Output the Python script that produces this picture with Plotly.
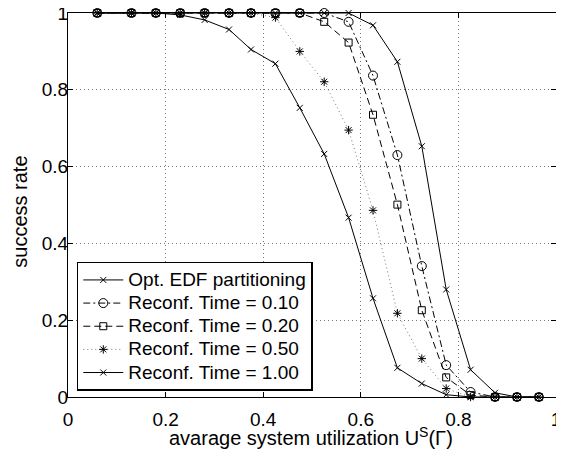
import plotly.graph_objects as go

xs = [0.06, 0.13, 0.18, 0.23, 0.28, 0.33, 0.375, 0.425, 0.475, 0.525,
      0.575, 0.625, 0.675, 0.725, 0.775, 0.825, 0.875, 0.92, 0.965]

opt_edf = [1]*11 + [0.968, 0.873, 0.653, 0.28, 0.071, 0.011, 0, 0]
rt_010 = [1]*10 + [0.977, 0.837, 0.63, 0.341, 0.083, 0.013, 0, 0, 0]
rt_020 = [1]*9 + [0.977, 0.923, 0.735, 0.501, 0.226, 0.051, 0.005, 0, 0, 0]
rt_050 = [1]*7 + [0.988, 0.9, 0.821, 0.695, 0.486, 0.218, 0.1, 0.022, 0, 0, 0, 0]
rt_100 = [1]*3 + [0.995, 0.982, 0.957, 0.905, 0.868, 0.753, 0.633, 0.467,
                  0.257, 0.076, 0.035, 0.006, 0, 0, 0, 0]

names = ["Opt. EDF partitioning", "Reconf. Time = 0.10", "Reconf. Time = 0.20",
         "Reconf. Time = 0.50", "Reconf. Time = 1.00"]
tick_vals = [0, 0.2, 0.4, 0.6, 0.8, 1]
tick_text = ["0", "0.2", "0.4", "0.6", "0.8", "1"]

styles = [
    dict(dash="solid", symbol="x-thin-open", size=6, color="black"),
    dict(dash="7px,3px,2px,3px", symbol="circle-open", size=9, color="black"),
    dict(dash="7px,4px", symbol="square-open", size=7, color="black"),
    dict(dash="1px,3px", symbol="asterisk-open", size=7, color="#777777"),
    dict(dash="solid", symbol="x-thin-open", size=6, color="black"),
]

FONT = "Liberation Sans, Arial, sans-serif"

fig = go.Figure()
for name, ys, st in zip(names, [opt_edf, rt_010, rt_020, rt_050, rt_100], styles):
    fig.add_trace(go.Scatter(
        x=xs, y=ys, name='<span style="font-size:19px">' + name + '</span>',
        mode="lines+markers",
        line=dict(color=st["color"], width=1, dash=st["dash"]),
        marker=dict(symbol=st["symbol"], size=st["size"], color="black",
                    line=dict(color="black", width=1)),
        cliponaxis=False,
    ))

axis_common = dict(
    range=[0, 1], showgrid=True, gridcolor="#777777", griddash="1px,3px", gridwidth=1,
    zeroline=False, showline=True, linecolor="black", linewidth=1.2, mirror="ticks",
    ticks="inside", ticklen=5, tickcolor="black", automargin=False,
    ticklabeloverflow="allow",
    tickvals=tick_vals, ticktext=tick_text,
    tickfont=dict(family=FONT, size=19, color="black"),
)

# page body has an 8px margin, so the figure is sized/offset accordingly
fig.update_layout(
    width=556, height=444,
    margin=dict(l=60, r=8, t=5, b=55),
    paper_bgcolor="white", plot_bgcolor="white",
    font=dict(family=FONT, size=19, color="black"),
    xaxis=dict(**axis_common, ticklabelstandoff=5),
    yaxis=dict(**axis_common, ticklabelstandoff=-5),
    legend=dict(x=0.018, y=0.016, xanchor="left", yanchor="bottom",
                bgcolor="white", bordercolor="black", borderwidth=1.5,
                font=dict(family=FONT, size=15.5), tracegroupgap=0, itemwidth=40),
    showlegend=True,
    annotations=[
        dict(text="avarage system utilization U<sup>S</sup>(Γ)", xref="paper", yref="paper",
             x=0.498, y=-0.102, xanchor="center", yanchor="middle", showarrow=False,
             font=dict(family=FONT, size=20, color="black")),
        dict(text="success rate", xref="paper", yref="paper",
             x=-0.10, y=0.483, xanchor="center", yanchor="middle", textangle=-90,
             showarrow=False, font=dict(family=FONT, size=20, color="black")),
    ],
)

fig.write_html("out.html")
